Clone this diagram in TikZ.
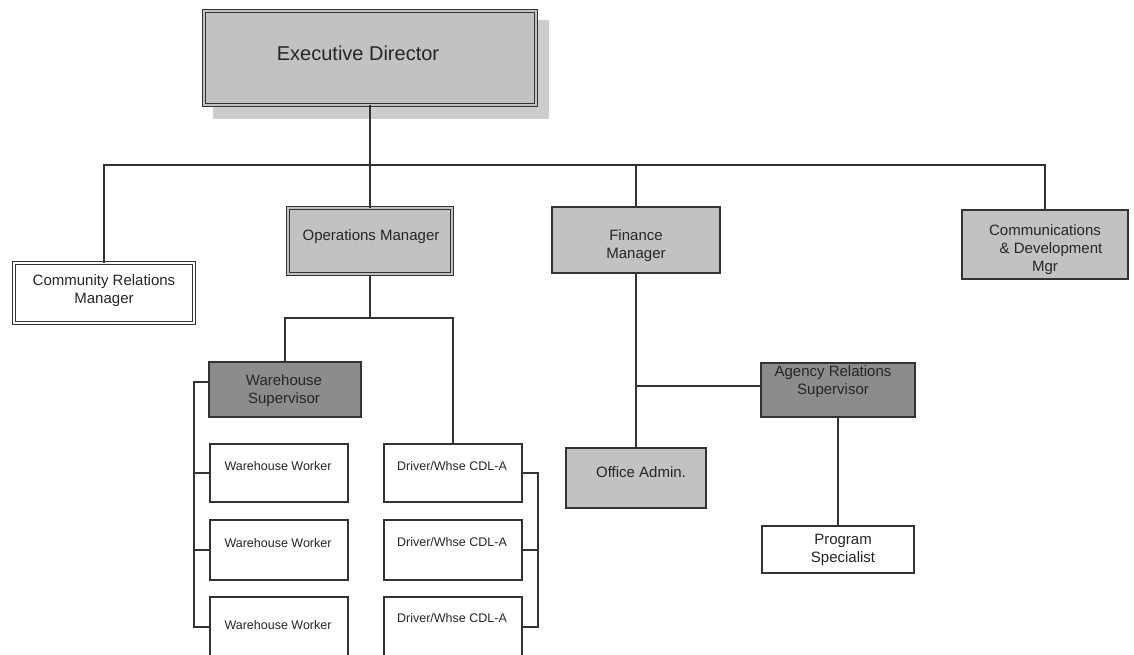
\documentclass[tikz,border=0pt]{standalone}
\usepackage{fontspec}
\setmainfont{Liberation Sans}
\definecolor{linegray}{HTML}{333333}
\definecolor{textgray}{HTML}{262626}
\definecolor{lightfill}{HTML}{C2C2C2}
\definecolor{darkfill}{HTML}{8C8C8C}
\definecolor{shadowgray}{HTML}{CDCDCD}
\begin{document}
\begin{tikzpicture}[x=1pt,y=-1pt,
  box/.style={rectangle,inner sep=0pt,draw=linegray,line width=2pt},
  dbl/.style={rectangle,inner sep=0pt,draw=linegray,line width=1pt,double distance=2pt},
  conn/.style={draw=linegray,line width=2pt},
  lbl/.style={text=textgray,font=\fontsize{15}{18}\selectfont,align=center,inner sep=0pt},
  small/.style={text=textgray,font=\fontsize{12.5}{15}\selectfont,inner sep=0pt},
]
% page area
\fill[white] (0,0) rectangle (1134,655);
\useasboundingbox (0,0) rectangle (1134,655);

% top level with its shadow
\fill[shadowgray] (213,20) rectangle (549,119);
\node[dbl,fill=lightfill,double=lightfill,minimum width=332pt,minimum height=94pt] (ed) at (370,58) {};
\node[text=textgray,font=\fontsize{20}{24}\selectfont,inner sep=0pt] (edt) at (358,53) {Executive Director};

% second level
\node[dbl,fill=white,double=white,minimum width=180pt,minimum height=60pt] (cr) at (104,293) {};
\node[lbl] (crt) at (104,291) {Community Relations\\Manager};
\node[dbl,fill=lightfill,double=lightfill,minimum width=164pt,minimum height=66pt] (ops) at (370,241) {};
\node[lbl] (opst) at (371,237) {Operations Manager};
\node[box,fill=lightfill,minimum width=168pt,minimum height=66pt] (fin) at (636,240) {};
\node[lbl] (fint) at (636,246) {Finance\\Manager};
\node[box,fill=lightfill,minimum width=166pt,minimum height=69pt] (comm) at (1045,244.5) {};
\node[lbl] (commt) at (1045,250) {Communications\\\hspace*{12pt}\& Development\\Mgr};

% operations branch
\node[box,fill=darkfill,minimum width=152pt,minimum height=55pt] (ws) at (285,389.5) {};
\node[lbl] (wst) at (284,391) {Warehouse\\Supervisor};

\node[box,fill=white,minimum width=138pt,minimum height=58pt] (w1) at (279,473) {};
\node[box,fill=white,minimum width=138pt,minimum height=60pt] (w2) at (279,550) {};
\node[box,fill=white,minimum width=138pt,minimum height=60pt] (w3) at (279,627) {};
\node[small] (w1t) at (278,466) {Warehouse Worker};
\node[small] (w2t) at (278,543) {Warehouse Worker};
\node[small] (w3t) at (278,625) {Warehouse Worker};

\node[box,fill=white,minimum width=138pt,minimum height=58pt] (d1) at (453,473) {};
\node[box,fill=white,minimum width=138pt,minimum height=60pt] (d2) at (453,550) {};
\node[box,fill=white,minimum width=138pt,minimum height=60pt] (d3) at (453,627) {};
\node[small] (d1t) at (452,466) {Driver/Whse CDL-A};
\node[small] (d2t) at (452,542) {Driver/Whse CDL-A};
\node[small] (d3t) at (452,618) {Driver/Whse CDL-A};

% finance branch
\node[box,fill=lightfill,minimum width=140pt,minimum height=60pt] (off) at (636,478) {};
\node[lbl] (offt) at (641,472) {Office Admin.};
\node[box,fill=darkfill,minimum width=154pt,minimum height=54pt] (ag) at (838,390) {};
\node[lbl] (agt) at (833,382) {Agency Relations\\Supervisor};
\node[box,fill=white,minimum width=152pt,minimum height=47pt] (ps) at (838,549.5) {};
\node[lbl] (pst) at (843,550) {Program\\Specialist};

% connector anchors
\coordinate (bus) at (0,165);
\coordinate (opsbus) at (0,318);
\coordinate (lbus) at (194,0);
\coordinate (rbus) at (538,0);
\coordinate (wsport) at ([yshift=7.5pt]ws.west);
\coordinate (agport) at ([yshift=4pt]ag.west);

% connectors
\draw[conn] (ed.south) -- (ed.south |- bus);
\draw[conn] (cr.north) -- (cr.north |- bus) -- (comm.north |- bus) -- (comm.north);
\draw[conn] (ops.north |- bus) -- (ops.north);
\draw[conn] (fin.north |- bus) -- (fin.north);

\draw[conn] (ops.south) -- (ops.south |- opsbus);
\draw[conn] (ws.north) -- (ws.north |- opsbus) -- (d1.north |- opsbus) -- (d1.north);

\draw[conn] (wsport) -- (lbus |- wsport) -- (lbus |- w3.west) -- (w3.west);
\draw[conn] (lbus |- w1.west) -- (w1.west);
\draw[conn] (lbus |- w2.west) -- (w2.west);

\draw[conn] (d1.east) -- (rbus |- d1.east) -- (rbus |- d3.east) -- (d3.east);
\draw[conn] (d2.east) -- (rbus |- d2.east);

\draw[conn] (fin.south) -- (fin.south |- off.north);
\draw[conn] (fin.south |- agport) -- (agport);
\draw[conn] (ag.south) -- (ag.south |- ps.north);
\end{tikzpicture}
\end{document}
